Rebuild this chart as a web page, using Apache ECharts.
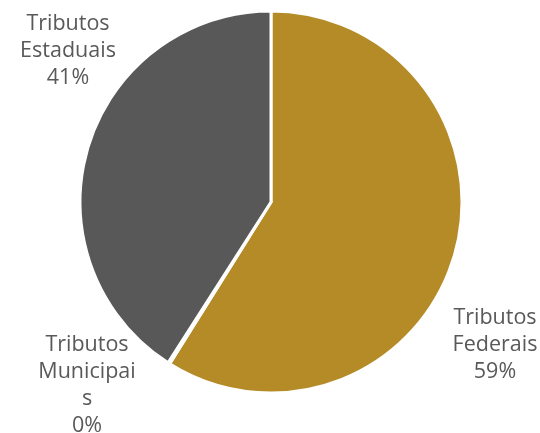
<!DOCTYPE html>
<html><head><meta charset="utf-8">
<script src="https://cdn.jsdelivr.net/npm/echarts@6/dist/echarts.min.js"></script>
<style>html,body{margin:0;padding:0;background:#fff}#c{width:540px;height:433px}</style>
</head><body><div id="c"></div>
<script>
const categories = ["Tributos\nFederais", "Tributos\nMunicipai\ns", "Tributos\nEstaduais"];
const values = [59, 0.15, 41];
const pctLabels = ["59%", "0%", "41%"];
const colors = ["#B48B26", "#A5A5A5", "#585858"];
const labelPos = [[495, 345], [87, 385], [68, 51]];

const chart = echarts.init(document.getElementById('c'));
chart.setOption({
  animation: false,
  series: [{
    type: 'pie',
    center: [271, 202],
    radius: [0, 191],
    startAngle: 90,
    clockwise: true,
    data: categories.map((n, i) => ({ name: n, value: values[i], itemStyle: { color: colors[i] } })),
    itemStyle: { borderColor: '#fff', borderWidth: 3 },
    label: {
      show: true,
      position: 'outside',
      formatter: p => p.name + '\n' + pctLabels[p.dataIndex],
      fontFamily: 'Open Sans',
      fontSize: 21.5,
      lineHeight: 27,
      color: '#595959',
      align: 'center',
      overflow: 'none',
      width: 200
    },
    labelLine: { show: false },
    labelLayout: p => ({ x: labelPos[p.dataIndex][0], y: labelPos[p.dataIndex][1], align: 'center', verticalAlign: 'middle' })
  }]
});
</script></body></html>
